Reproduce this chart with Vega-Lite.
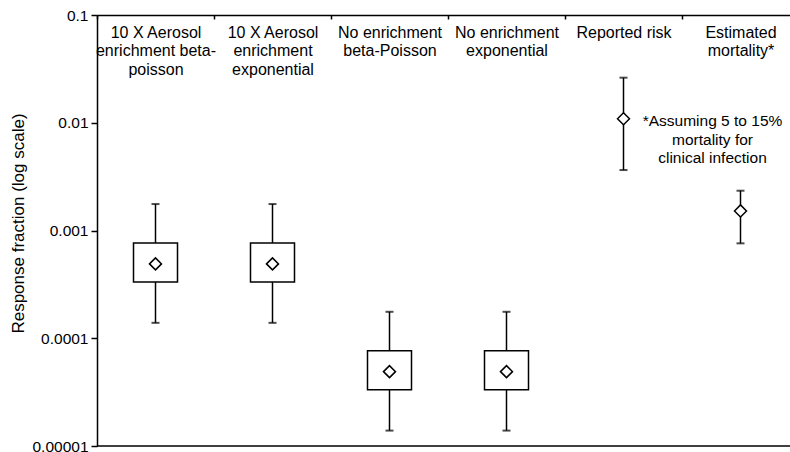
{
  "$schema": "https://vega.github.io/schema/vega-lite/v6.json",
  "width": 693,
  "height": 431,
  "autosize": {"type": "none"},
  "padding": {"left": 97, "top": 15, "right": 0, "bottom": 6},
  "background": "white",
  "config": {
    "font": "Liberation Sans",
    "view": {"stroke": null},
    "axis": {"labelColor": "black", "titleColor": "black", "domainColor": "black", "tickColor": "black"}
  },
  "data": {
    "values": [
      {"cat": "10 X Aerosol|enrichment beta-|poisson", "mid": 0.00049, "lo": 0.000139, "hi": 0.00176, "q1": 0.000333, "q3": 0.000766},
      {"cat": "10 X Aerosol|enrichment|exponential", "mid": 0.00049, "lo": 0.000139, "hi": 0.00176, "q1": 0.000333, "q3": 0.000766},
      {"cat": "No enrichment|beta-Poisson", "mid": 0.000049, "lo": 0.0000139, "hi": 0.000176, "q1": 0.0000333, "q3": 0.0000766},
      {"cat": "No enrichment|exponential", "mid": 0.000049, "lo": 0.0000139, "hi": 0.000176, "q1": 0.0000333, "q3": 0.0000766},
      {"cat": "Reported risk", "mid": 0.0109, "lo": 0.00364, "hi": 0.0262, "q1": null, "q3": null},
      {"cat": "Estimated|mortality*", "mid": 0.00152, "lo": 0.00076, "hi": 0.00234, "q1": null, "q3": null}
    ]
  },
  "layer": [
    {
      "mark": {"type": "rule", "color": "black", "strokeWidth": 1.5},
      "encoding": {
        "x": {
          "field": "cat", "type": "nominal", "sort": null,
          "scale": {"range": [0, 702], "paddingInner": 0, "paddingOuter": 0},
          "axis": {
            "orient": "top", "title": null,
            "labelExpr": "split(datum.label, '|')",
            "labelFontSize": 16, "labelLineHeight": 18.5, "labelBaseline": "top",
            "labelPadding": -5, "tickSize": -4, "tickBand": "extent", "tickWidth": 1.5,
            "domainWidth": 1.5, "labelOverlap": false, "labelFlush": false, "labelAngle": 0, "labelLimit": 0
          }
        },
        "y": {
          "field": "lo", "type": "quantitative",
          "scale": {"type": "log", "domain": [0.00001, 0.1], "nice": false},
          "axis": {
            "title": "Response fraction (log scale)",
            "values": [0.00001, 0.0001, 0.001, 0.01, 0.1],
            "format": "~f", "labelFontSize": 15.5, "tickSize": 6, "tickWidth": 1.5,
            "labelPadding": 3, "domainWidth": 1.5, "grid": false,
            "titleFontSize": 17, "titleFontWeight": "normal", "titlePadding": 4, "titleY": 208
          }
        },
        "y2": {"field": "hi"}
      }
    },
    {
      "mark": {"type": "tick", "color": "black", "size": 8, "thickness": 2},
      "encoding": {
        "x": {"field": "cat", "type": "nominal", "sort": null},
        "y": {"field": "lo", "type": "quantitative"}
      }
    },
    {
      "mark": {"type": "tick", "color": "black", "size": 8, "thickness": 2},
      "encoding": {
        "x": {"field": "cat", "type": "nominal", "sort": null},
        "y": {"field": "hi", "type": "quantitative"}
      }
    },
    {
      "mark": {"type": "bar", "fill": "white", "stroke": "black", "strokeWidth": 1.5, "size": 44},
      "encoding": {
        "x": {"field": "cat", "type": "nominal", "sort": null},
        "y": {"field": "q1", "type": "quantitative"},
        "y2": {"field": "q3"}
      }
    },
    {
      "mark": {"type": "point", "shape": "diamond", "size": 144, "filled": true, "fill": "white", "stroke": "black", "strokeWidth": 1.5, "opacity": 1},
      "encoding": {
        "x": {"field": "cat", "type": "nominal", "sort": null},
        "y": {"field": "mid", "type": "quantitative"}
      }
    },
    {
      "data": {"values": [{"base": 0.00001}]},
      "mark": {"type": "rule", "color": "black", "strokeWidth": 1.5},
      "encoding": {"y": {"field": "base", "type": "quantitative"}}
    },
    {
      "data": {"values": [{"cat": "Estimated|mortality*", "note": "*Assuming 5 to 15%|mortality for|clinical infection", "y": 0.01028}]},
      "mark": {"type": "text", "lineBreak": "|", "fontSize": 15.5, "lineHeight": 18.5, "baseline": "middle", "align": "center", "dx": -28, "color": "black"},
      "encoding": {
        "x": {"field": "cat", "type": "nominal", "sort": null},
        "y": {"field": "y", "type": "quantitative"},
        "text": {"field": "note"}
      }
    }
  ]
}
